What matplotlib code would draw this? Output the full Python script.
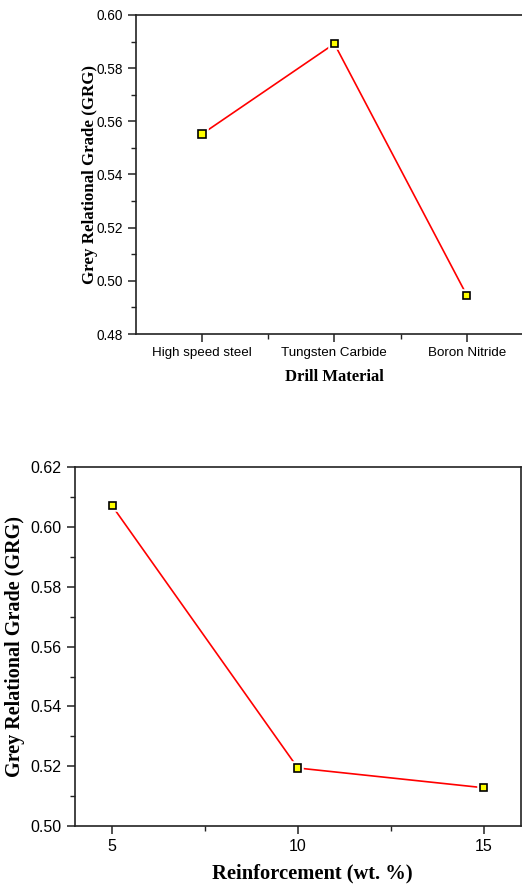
import matplotlib
matplotlib.use("Agg")
import matplotlib.pyplot as plt
import matplotlib.patheffects as pe
from matplotlib.ticker import MultipleLocator, FixedLocator

materials = ["High speed steel", "Tungsten Carbide", "Boron Nitride"]
grg_material = [0.5552, 0.5892, 0.4946]

reinforcement = [5, 10, 15]
grg_reinf = [0.6071, 0.5194, 0.5128]

sans = ["Liberation Sans", "DejaVu Sans"]
serif = ["Liberation Serif", "DejaVu Serif"]

W, H = 522, 884
fig = plt.figure(figsize=(W / 100, H / 100), dpi=100)

def px_axes(l, t, r, b):
    return fig.add_axes([l / W, 1 - b / H, (r - l) / W, (b - t) / H])

def style(ax):
    for s in ax.spines.values():
        s.set_linewidth(1.2)
        s.set_color("#222222")
    ax.tick_params(which="major", direction="out", length=6, width=1.1,
                   top=False, right=False, colors="#222222")
    ax.tick_params(which="minor", direction="out", length=3.5, width=1.0,
                   top=False, right=False, colors="#222222")
    for lab in ax.get_xticklabels() + ax.get_yticklabels():
        lab.set_color("black")

def draw(ax, x, y):
    ax.plot(x, y, color="red", lw=1.2, zorder=2)
    ax.plot(x, y, ls="none", marker="s", ms=5.2, mfc="#ffff00", mec="black",
            mew=1.2, zorder=3,
            path_effects=[pe.Stroke(linewidth=4, foreground="white"), pe.Normal()])

# Top panel
ax1 = px_axes(135.7, 15, 533, 334)
xs = list(range(len(materials)))
draw(ax1, xs, grg_material)
ax1.set_xlim(-0.5, 2.5)
ax1.set_ylim(0.48, 0.60)
ax1.set_xticks(xs)
ax1.set_xticklabels(materials, fontsize=9.6, family=sans)
ax1.xaxis.set_minor_locator(FixedLocator([0.5, 1.5]))
ax1.set_yticks([0.48, 0.50, 0.52, 0.54, 0.56, 0.58, 0.60])
ax1.yaxis.set_minor_locator(MultipleLocator(0.01))
ax1.set_yticklabels([f"{v:.2f}" for v in ax1.get_yticks()], fontsize=9.8, family=sans)
ax1.set_xlabel("Drill Material", fontsize=12, fontweight="bold", family=serif, labelpad=7)
ax1.set_ylabel("Grey Relational Grade (GRG)", fontsize=12.2, fontweight="bold", family=serif, labelpad=-1.2)
style(ax1)

# Bottom panel
ax2 = px_axes(75, 467.3, 520.7, 826)
draw(ax2, reinforcement, grg_reinf)
ax2.set_xlim(4, 16)
ax2.set_ylim(0.50, 0.62)
ax2.set_xticks(reinforcement)
ax2.set_xticklabels([str(v) for v in reinforcement], fontsize=11.5, family=sans)
ax2.xaxis.set_minor_locator(FixedLocator([7.5, 12.5]))
ax2.set_yticks([0.50, 0.52, 0.54, 0.56, 0.58, 0.60, 0.62])
ax2.yaxis.set_minor_locator(MultipleLocator(0.01))
ax2.set_yticklabels([f"{v:.2f}" for v in ax2.get_yticks()], fontsize=11.5, family=sans)
ax2.set_xlabel("Reinforcement (wt. %)", fontsize=14.8, fontweight="bold", family=serif)
ax2.xaxis.set_label_coords(0.532, -0.104)
ax2.set_ylabel("Grey Relational Grade (GRG)", fontsize=14.5, fontweight="bold", family=serif, labelpad=4)
style(ax2)

fig.savefig("out.png", dpi=100)
